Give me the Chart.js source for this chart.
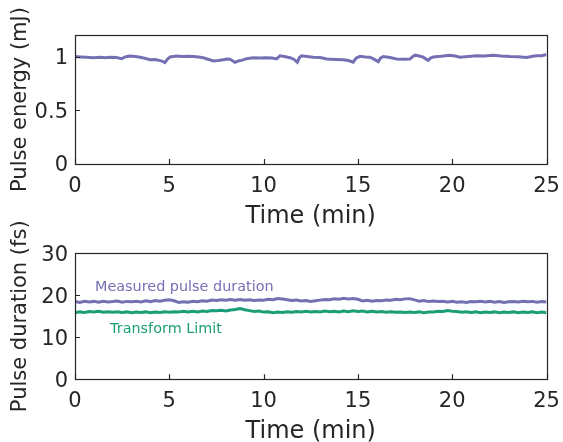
<!DOCTYPE html>
<html><head><meta charset="utf-8">
<script src="https://cdn.jsdelivr.net/npm/chart.js@4/dist/chart.umd.min.js"></script>
<style>
html,body{margin:0;padding:0;background:#fff;overflow:hidden;width:563px;height:442px;}
#w1{position:absolute;left:0;top:0;width:563px;height:230px;}
#w2{position:absolute;left:0;top:200px;width:563px;height:245px;}
</style></head><body>
<div id="w1"><canvas id="c1"></canvas></div>
<div id="w2"><canvas id="c2"></canvas></div>
<script>
// ---------- data ----------
const timeTicks = [0, 5, 10, 15, 20, 25];
const timeTickLabels = ['0', '5', '10', '15', '20', '25'];
const energyTicks = [0, 0.5, 1];
const energyTickLabels = ['0', '0.5', '1'];
const durationTicks = [0, 10, 20, 30];
const durationTickLabels = ['0', '10', '20', '30'];

const energyTime = [0,0.3,0.6,0.97,1.3,1.6,1.86,2.2,2.47,2.7,2.92,3.2,3.45,3.7,3.98,4.25,4.51,4.65,4.77,4.9,5.04,5.39,5.7,6.0,6.27,6.55,6.8,7.05,7.33,7.6,7.86,8.05,8.22,8.35,8.48,8.65,8.83,9.1,9.45,9.8,10.16,10.45,10.69,10.87,11.1,11.4,11.6,11.79,11.9,12.02,12.3,12.63,13.0,13.34,13.8,14.22,14.5,14.75,14.9,15.11,15.4,15.64,15.85,16.08,16.2,16.34,16.7,17.05,17.4,17.76,17.9,18.02,18.25,18.46,18.6,18.73,18.85,19.0,19.4,19.88,20.15,20.41,20.85,21.29,21.7,22.18,22.6,23.06,23.5,23.94,24.2,24.47,24.75,25];
const energyValue = [1.000,0.996,0.992,0.988,0.992,0.989,0.994,0.990,0.980,0.998,1.005,1.000,0.993,0.984,0.970,0.972,0.962,0.955,0.943,0.975,0.995,1.005,1.001,1.003,1.000,0.995,0.988,0.975,0.958,0.962,0.970,0.976,0.974,0.960,0.946,0.958,0.964,0.980,0.988,0.986,0.989,0.985,0.978,1.006,1.000,0.989,0.975,0.946,0.990,1.006,1.000,0.994,0.990,0.976,0.972,0.969,0.962,0.947,0.985,1.002,0.996,0.994,0.975,0.952,0.985,1.000,0.990,0.977,0.974,0.976,0.998,1.012,1.004,0.994,0.978,0.964,0.985,0.996,1.002,1.012,1.004,0.994,1.000,1.006,1.004,1.012,1.005,1.000,0.998,0.990,1.000,1.006,1.008,1.019];

const durationTime = [0,0.25,0.5,0.75,1,1.25,1.5,1.75,2,2.25,2.5,2.75,3,3.25,3.5,3.75,4,4.25,4.5,4.75,5,5.25,5.5,5.75,6,6.25,6.5,6.75,7,7.25,7.5,7.75,8,8.25,8.5,8.75,9,9.25,9.5,9.75,10,10.25,10.5,10.75,11,11.25,11.5,11.75,12,12.25,12.5,12.75,13,13.25,13.5,13.75,14,14.25,14.5,14.75,15,15.25,15.5,15.75,16,16.25,16.5,16.75,17,17.25,17.5,17.75,18,18.25,18.5,18.75,19,19.25,19.5,19.75,20,20.25,20.5,20.75,21,21.25,21.5,21.75,22,22.25,22.5,22.75,23,23.25,23.5,23.75,24,24.25,24.5,24.75,25];
const measuredDuration = [18.5,18.3,18.6,18.4,18.55,18.35,18.6,18.4,18.5,18.65,18.35,18.55,18.45,18.6,18.4,18.7,18.5,18.75,18.6,18.8,18.95,18.7,18.3,18.45,18.35,18.6,18.45,18.7,18.6,18.85,18.75,18.95,18.8,19.0,18.85,19.0,18.8,18.95,18.75,18.9,18.85,19.05,18.95,19.25,19.1,18.95,18.75,18.85,18.65,18.75,18.55,18.7,18.85,19.0,18.95,19.15,19.05,19.3,19.15,19.25,19.05,18.65,18.8,18.6,18.75,18.7,18.9,18.85,19.05,18.95,19.15,19.2,18.9,18.6,18.75,18.5,18.65,18.5,18.6,18.4,18.55,18.35,18.45,18.3,18.5,18.45,18.6,18.4,18.55,18.35,18.5,18.3,18.45,18.55,18.4,18.6,18.45,18.55,18.35,18.5,18.4];
const transformLimit = [15.85,16.05,15.9,16.15,16.0,16.2,15.95,16.1,15.95,16.1,15.9,16.05,15.85,16.0,15.9,16.05,15.85,16.0,15.9,16.1,15.95,16.1,16.0,16.2,16.05,16.2,16.05,16.25,16.15,16.4,16.3,16.45,16.25,16.5,16.6,16.85,16.55,16.35,16.15,16.25,16.0,16.1,15.85,16.0,15.9,16.1,15.95,16.15,16.05,16.2,16.0,16.15,16.05,16.25,16.1,16.2,16.05,16.25,16.1,16.3,16.15,16.25,16.05,16.2,16.0,16.15,15.95,16.1,15.95,16.05,15.9,16.05,15.9,16.05,15.85,16.0,16.05,16.2,16.15,16.4,16.2,16.15,15.95,16.1,15.9,16.05,15.85,16.0,15.9,16.05,15.85,16.0,15.9,16.05,15.85,16.0,15.9,16.05,15.85,16.0,15.85];

const seriesNames = ['Measured pulse duration', 'Transform Limit'];
const labelAnchors = [{x: 1.06, y: 21.8}, {x: 1.86, y: 12.0}];

// ---------- styles ----------
const FONT = "'DejaVu Sans', Verdana, sans-serif";
const INK = '#262626';
const PURPLE = '#7570b3';
const GREEN = '#1b9e77';

function pts(xs, ys) { return xs.map((x, i) => ({x: x, y: ys[i]})); }

const boxPlugin = {
  id: 'boxTicks',
  afterDraw(chart) {
    const ctx = chart.ctx, a = chart.chartArea;
    const xs = chart.scales.x, ys = chart.scales.y;
    ctx.save();
    ctx.strokeStyle = INK;
    ctx.lineWidth = 1.2;
    ctx.strokeRect(Math.round(a.left) + 0.5, Math.round(a.top) + 0.5, Math.round(a.right - a.left), Math.round(a.bottom - a.top));
    ctx.beginPath();
    xs.ticks.forEach(t => {
      const px = Math.round(xs.getPixelForValue(t.value)) + 0.5;
      ctx.moveTo(px, a.bottom); ctx.lineTo(px, a.bottom - 5);
    });
    ys.ticks.forEach(t => {
      const py = Math.round(ys.getPixelForValue(t.value)) + 0.5;
      ctx.moveTo(a.left, py); ctx.lineTo(a.left + 5, py);
    });
    ctx.stroke();
    ctx.restore();
  }
};

const textPlugin = {
  id: 'seriesText',
  afterDatasetsDraw(chart) {
    if (!chart.options.plugins.seriesText || !chart.options.plugins.seriesText.on) return;
    const ctx = chart.ctx, xs = chart.scales.x, ys = chart.scales.y;
    ctx.save();
    ctx.font = '14.4px ' + FONT;
    ctx.textBaseline = 'middle';
    ctx.textAlign = 'left';
    const cols = [PURPLE, GREEN];
    seriesNames.forEach((n, i) => {
      ctx.fillStyle = cols[i];
      ctx.fillText(n, xs.getPixelForValue(labelAnchors[i].x), ys.getPixelForValue(labelAnchors[i].y));
    });
    ctx.restore();
  }
};

function xScale(h) {
  return {
    type: 'linear', min: 0, max: 25,
    afterBuildTicks: s => { s.ticks = timeTicks.map(v => ({value: v})); },
    ticks: {callback: (v, i) => timeTickLabels[i], font: {family: FONT, size: 21}, color: INK, padding: 10, maxRotation: 0, autoSkip: false},
    grid: {display: false, drawTicks: false},
    border: {display: false},
    title: {display: true, text: 'Time (min)', font: {family: FONT, size: 24}, color: INK, padding: {top: 0, bottom: -1}},
    afterFit: s => { s.height = h; s.paddingLeft = 0; s.paddingRight = 0; s.paddingTop = 0; s.paddingBottom = 0; }
  };
}
function yScale(min, max, tickVals, tickLabels, title) {
  return {
    type: 'linear', min: min, max: max,
    afterBuildTicks: s => { s.ticks = tickVals.map(v => ({value: v})); },
    ticks: {callback: (v, i) => tickLabels[i], font: {family: FONT, size: 21}, color: INK, padding: 7, labelOffset: 2, autoSkip: false},
    grid: {display: false, drawTicks: false},
    border: {display: false},
    title: {display: true, text: title, font: {family: FONT, size: 21}, color: INK, padding: {top: 8, bottom: 0}},
    afterFit: s => { s.width = 75; s.paddingLeft = 0; s.paddingRight = 0; s.paddingTop = 0; s.paddingBottom = 0; }
  };
}

const common = {
  responsive: true, maintainAspectRatio: false, animation: false,
  plugins: {legend: {display: false}, tooltip: {enabled: false}},
  elements: {point: {radius: 0}, line: {tension: 0}}
};

new Chart(document.getElementById('c1'), {
  type: 'line',
  data: {datasets: [{data: pts(energyTime, energyValue), borderColor: PURPLE, borderWidth: 3, fill: false}]},
  options: Object.assign({}, common, {
    layout: {padding: {left: 0, right: 16.5, top: 35, bottom: 0}},
    scales: {x: xScale(66), y: yScale(0, 1.2, energyTicks, energyTickLabels, 'Pulse energy (mJ)')}
  }),
  plugins: [boxPlugin]
});

new Chart(document.getElementById('c2'), {
  type: 'line',
  data: {datasets: [
    {data: pts(durationTime, measuredDuration), borderColor: PURPLE, borderWidth: 3, fill: false},
    {data: pts(durationTime, transformLimit), borderColor: GREEN, borderWidth: 3, fill: false}
  ]},
  options: Object.assign({}, common, {
    layout: {padding: {left: 0, right: 16.5, top: 53.3, bottom: 0}},
    plugins: {legend: {display: false}, tooltip: {enabled: false}, seriesText: {on: true}},
    scales: {x: xScale(65.7), y: yScale(0, 30, durationTicks, durationTickLabels, 'Pulse duration (fs)')}
  }),
  plugins: [boxPlugin, textPlugin]
});
</script>
</body></html>
